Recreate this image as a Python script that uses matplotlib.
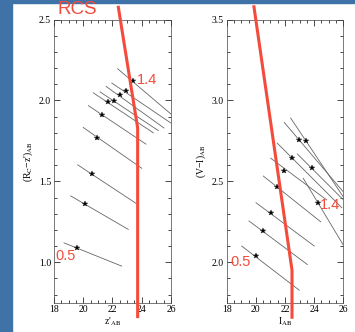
import matplotlib.pyplot as plt
from matplotlib.patches import Rectangle
from matplotlib.ticker import MultipleLocator, FormatStrFormatter

plt.rcParams['mathtext.fontset'] = 'stix'
plt.rcParams['font.family'] = 'Liberation Serif'

# left panel: (Rc - z') vs z'  -- stars and track endpoints
left_star_x = [23.38, 22.92, 22.51, 22.10, 21.71, 21.31, 20.96, 20.58, 20.12, 19.60]
left_star_y = [2.120, 2.056, 2.035, 1.994, 1.988, 1.908, 1.771, 1.544, 1.360, 1.089]
left_x0 = [22.35, 21.95, 21.56, 21.15, 20.69, 20.35, 20.00, 19.62, 19.14, 18.68]
left_y0 = [2.196, 2.108, 2.087, 2.053, 2.047, 1.968, 1.833, 1.602, 1.410, 1.120]
left_x1 = [26.00, 26.00, 25.52, 25.13, 24.79, 24.29, 24.00, 23.61, 23.08, 22.63]
left_y1 = [1.916, 1.860, 1.830, 1.814, 1.800, 1.730, 1.581, 1.364, 1.203, 0.976]
left_rcs_x = [22.40, 23.72, 23.72]
left_rcs_y = [2.576, 1.830, 0.664]

# right panel: (V - I) vs I
right_star_x = [22.96, 23.42, 22.50, 23.83, 21.95, 21.47, 21.02, 20.51, 20.01, 24.28]
right_star_y = [2.757, 2.752, 2.643, 2.581, 2.566, 2.463, 2.306, 2.193, 2.038, 2.368]
right_x0 = [21.95, 22.39, 21.47, 22.85, 21.02, 20.51, 20.01, 19.53, 19.03, 23.25]
right_y0 = [2.864, 2.891, 2.736, 2.669, 2.643, 2.533, 2.368, 2.255, 2.100, 2.519]
right_x1 = [26.00, 26.00, 25.90, 26.00, 24.86, 24.45, 24.01, 23.53, 22.98, 26.00]
right_y1 = [2.435, 2.404, 2.337, 2.386, 2.385, 2.250, 2.100, 1.986, 1.827, 2.106]
right_rcs_x = [19.87, 22.48, 22.48]
right_rcs_y = [3.579, 1.951, 1.660]

red = '#f34b3c'

fig = plt.figure(figsize=(3.55, 3.32), dpi=100)
fig.patches.append(Rectangle((0, 0), 12 / 355, 1, transform=fig.transFigure,
                             color='#3f72a6', zorder=0))
fig.patches.append(Rectangle((0, 1 - 3 / 332), 1, 3 / 332, transform=fig.transFigure,
                             color='#3f72a6', zorder=0))

ax1 = fig.add_axes([0.1521, 0.0883, 0.3296, 0.8527])
ax2 = fig.add_axes([0.6386, 0.0883, 0.3285, 0.8527])


def setup(ax, ylo, yhi):
    ax.set_xlim(18, 26)
    ax.set_ylim(ylo, yhi)
    ax.xaxis.set_major_locator(MultipleLocator(2))
    ax.xaxis.set_minor_locator(MultipleLocator(0.5))
    ax.yaxis.set_major_locator(MultipleLocator(0.5))
    ax.yaxis.set_minor_locator(MultipleLocator(0.1))
    ax.yaxis.set_major_formatter(FormatStrFormatter('%.1f'))
    ax.tick_params(which='both', direction='in', top=True, right=True,
                   labelsize=7, width=0.5, pad=2)
    ax.tick_params(which='major', length=4)
    ax.tick_params(which='minor', length=2.5)
    for s in ax.spines.values():
        s.set_linewidth(0.5)
        s.set_color('#444444')


def draw(ax, sx, sy, x0, y0, x1, y1):
    for i in range(len(sx)):
        ax.plot([x0[i], x1[i]], [y0[i], y1[i]], color='#666666', lw=0.6)
    ax.plot(sx, sy, ls='none', marker='s', ms=3.5, color='#dddddd', mew=0)
    ax.plot(sx, sy, ls='none', marker='*', ms=3.8, color='black',
            mec='#222222', mew=0.3)


setup(ax1, 0.75, 2.5)
draw(ax1, left_star_x, left_star_y, left_x0, left_y0, left_x1, left_y1)
ax1.plot(left_rcs_x, left_rcs_y, color=red, lw=2.2, clip_on=False, zorder=5)
ax1.set_xlabel("z'$_{\\rm AB}$", fontsize=7, labelpad=1)
ax1.set_ylabel("(R$_{\\rm C}$\u2212z')$_{\\rm AB}$", fontsize=7, labelpad=3)

setup(ax2, 1.75, 3.5)
draw(ax2, right_star_x, right_star_y, right_x0, right_y0, right_x1, right_y1)
ax2.plot(right_rcs_x, right_rcs_y, color=red, lw=2.2, clip_on=False, zorder=5)
ax2.set_xlabel("I$_{\\rm AB}$", fontsize=7, labelpad=1)
ax2.set_ylabel("(V\u2212I)$_{\\rm AB}$", fontsize=7, labelpad=3)

# red annotations (pixel positions converted to figure fractions)
lab = dict(color=red, family='Liberation Sans', ha='center', va='center')
fig.text(77.5 / 355, 1 - 9.5 / 332, 'RCS', fontsize=13.5, **lab)
fig.text(146.5 / 355, 1 - 80.5 / 332, '1.4', fontsize=10.5, **lab)
fig.text(66 / 355, 1 - 255.5 / 332, '0.5', fontsize=10.5, **lab)
fig.text(330 / 355, 1 - 205 / 332, '1.4', fontsize=10.5, **lab)
fig.text(240.5 / 355, 1 - 262 / 332, '0.5', fontsize=10.5, **lab)

fig.savefig('out.png', dpi=100)
